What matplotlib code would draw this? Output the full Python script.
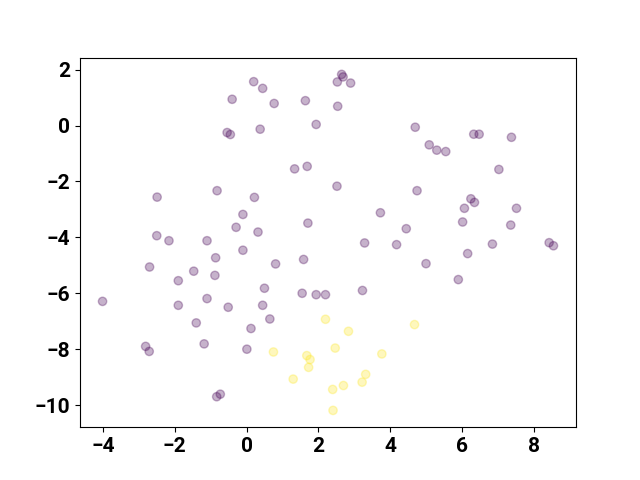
import matplotlib
matplotlib.use("Agg")
import matplotlib.pyplot as plt
import numpy as np

x_purple = [0.20, -0.40, -0.54, -0.45, 0.45, 0.77, 1.64, 2.65, 2.69, 2.53, 2.90, 2.54,
            0.38, 1.94, 1.34, 1.69, 4.70, 5.09, 5.30, 5.55, 6.33, 6.48, 7.38, 7.03,
            -2.49, -0.82, -0.10, -0.29, -2.50, -2.16, -1.10, -0.10, -0.86, -2.70, -1.47,
            -0.88, -1.90, -4.01, -1.90, -1.10, -0.51, 2.52, 0.22, 1.71, 0.32, 3.73, 4.45,
            3.29, 4.18, 1.59, 0.81, 0.50, 1.55, 1.94, 2.20, 3.23, 0.45, 4.75, 6.25, 6.35,
            6.07, 7.52, 6.02, 7.36, 6.85, 8.43, 8.55, 6.16, 5.00, 5.90, -1.40, 0.125,
            -2.81, -2.71, -1.18, 0.01, -0.73, -0.83, 0.65]
y_purple = [1.57, 0.94, -0.25, -0.32, 1.33, 0.79, 0.89, 1.83, 1.74, 1.56, 1.52, 0.69,
            -0.13, 0.04, -1.55, -1.46, -0.06, -0.69, -0.88, -0.93, -0.31, -0.31, -0.42, -1.57,
            -2.56, -2.33, -3.18, -3.64, -3.94, -4.12, -4.12, -4.46, -4.73, -5.06, -5.21,
            -5.36, -5.55, -6.29, -6.43, -6.19, -6.50, -2.17, -2.57, -3.49, -3.81, -3.12, -3.69,
            -4.20, -4.26, -4.79, -4.95, -5.82, -6.00, -6.05, -6.05, -5.90, -6.43, -2.33, -2.62, -2.75,
            -2.96, -2.96, -3.45, -3.56, -4.24, -4.19, -4.30, -4.58, -4.94, -5.51, -7.06, -7.26,
            -7.90, -8.08, -7.81, -8.00, -9.61, -9.70, -6.92]
x_yellow = [2.20, 2.84, 0.75, 1.68, 1.77, 2.47, 1.73, 1.30, 3.77, 3.32, 3.22, 2.70, 2.40, 2.41, 4.68]
y_yellow = [-6.93, -7.36, -8.10, -8.23, -8.37, -7.96, -8.65, -9.07, -8.17, -8.90, -9.18, -9.30, -9.44, -10.19, -7.12]

x = np.array(x_purple + x_yellow)
y = np.array(y_purple + y_yellow)
labels = np.array([0] * len(x_purple) + [1] * len(x_yellow))

plt.rcParams['font.family'] = ['Roboto', 'DejaVu Sans']
plt.rcParams['font.weight'] = 'bold'
plt.rcParams['font.size'] = 15

fig, ax = plt.subplots(figsize=(6.4, 4.8), dpi=100)
ax.scatter(x, y, c=labels, cmap='viridis', alpha=0.3)
for lab in ax.get_xticklabels() + ax.get_yticklabels():
    lab.set_fontweight('bold')
fig.savefig("out.png")
